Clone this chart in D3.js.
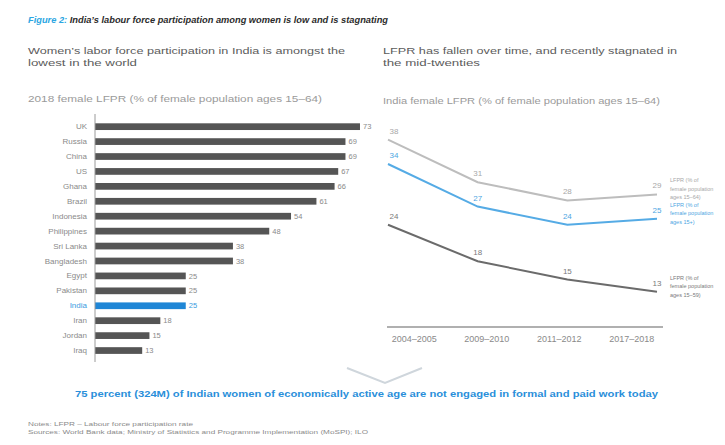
<!DOCTYPE html>
<html>
<head>
<meta charset="utf-8">
<script src="https://cdn.jsdelivr.net/npm/d3@7/dist/d3.min.js"></script>
<style>
  html, body { margin: 0; padding: 0; background: #fff; }
  svg { display: block; font-family: "Liberation Sans", Arial, sans-serif; }
</style>
</head>
<body>
<svg id="chart" width="725" height="445"></svg>
<script>
// ---------- data ----------
const countries = ["UK","Russia","China","US","Ghana","Brazil","Indonesia","Philippines","Sri Lanka","Bangladesh","Egypt","Pakistan","India","Iran","Jordan","Iraq"];
const lfpr2018 = [73,69,69,67,66,61,54,48,38,38,25,25,25,18,15,13];
const highlight = "India";

const periods = ["2004–2005","2009–2010","2011–2012","2017–2018"];
const lfprGray = [38,31,28,29];
const lfprBlue = [34,27,24,25];
const lfprDark = [24,18,15,13];
const legendGray = ["LFPR (% of","female population","ages 15–64)"];
const legendBlue = ["LFPR (% of","female population","ages 15+)"];
const legendDark = ["LFPR (% of","female population","ages 15–59)"];

const titleLead = "Figure 2:";
const titleRest = " India’s labour force participation among women is low and is stagnating";
const leftSub = ["Women’s labor force participation in India is amongst the","lowest in the world"];
const rightSub = ["LFPR has fallen over time, and recently stagnated in","the mid-twenties"];
const leftAxisTitle = "2018 female LFPR (% of female population ages 15–64)";
const rightAxisTitle = "India female LFPR (% of female population ages 15–64)";
const banner = "75 percent (324M) of Indian women of economically active age are not engaged in formal and paid work today";
const notes = ["Notes: LFPR – Labour force participation rate","Sources: World Bank data; Ministry of Statistics and Programme Implementation (MoSPI); ILO"];

// ---------- drawing ----------
const svg = d3.select("#chart");
const fit = (sel, w) => sel.attr("textLength", w).attr("lengthAdjust", "spacingAndGlyphs");

// title
const title = svg.append("text").attr("x", 28).attr("y", 23)
  .attr("font-size", 9.5).attr("font-weight", "bold").attr("font-style", "italic");
title.append("tspan").attr("fill", "#2ba6e2").text(titleLead);
title.append("tspan").attr("fill", "#2b2b2b").text(titleRest);
fit(title, 360);

// subtitles
const subW = [[317,109],[294,97]];
leftSub.forEach((t,i) => fit(svg.append("text").attr("x",28).attr("y",54+i*12)
  .attr("font-size",9.5).attr("fill","#5c5c5c").text(t), subW[0][i]));
rightSub.forEach((t,i) => fit(svg.append("text").attr("x",383).attr("y",54+i*12)
  .attr("font-size",9.5).attr("fill","#5c5c5c").text(t), subW[1][i]));
fit(svg.append("text").attr("x",28).attr("y",102).attr("font-size",8.5)
  .attr("fill","#9a9a9a").text(leftAxisTitle), 294);
fit(svg.append("text").attr("x",383).attr("y",104).attr("font-size",8.5)
  .attr("fill","#9a9a9a").text(rightAxisTitle), 277);

// ---- bar chart ----
const xb = d3.scaleLinear().domain([0,80]).range([95, 95 + 80*3.63]);
const yb = d3.scaleBand().domain(countries).range([119.2, 358]).paddingInner(0.55).paddingOuter(0.275);
const barData = countries.map((c,i) => ({c, v: lfpr2018[i]}));

svg.append("g").selectAll("rect").data(barData).join("rect")
  .attr("x", xb(0)).attr("y", d => yb(d.c))
  .attr("width", d => xb(d.v) - xb(0)).attr("height", yb.bandwidth())
  .attr("fill", d => d.c === highlight ? "#1f86d6" : "#555555");

svg.append("g").selectAll("text").data(barData).join("text")
  .attr("x", d => xb(d.v) + 3).attr("y", d => yb(d.c) + yb.bandwidth()/2)
  .attr("dy", "0.35em").attr("font-size", 7.5)
  .attr("fill", d => d.c === highlight ? "#3a9be0" : "#8a8a8a")
  .text(d => d.v);

const yAxis = svg.append("g").attr("transform", `translate(${xb(0)},0)`)
  .call(d3.axisLeft(yb).tickSize(0).tickPadding(8));
yAxis.select(".domain").attr("stroke", "#9a9a9a").attr("d", "M0,114V362");
yAxis.selectAll("text").attr("font-size", 8).attr("font-family", "Liberation Sans, Arial, sans-serif")
  .attr("fill", d => d === highlight ? "#3a9be0" : "#8a8a8a");

// ---- line chart ----
const xp = d3.scalePoint().domain(periods).range([388, 657]);
const xl = d3.scaleBand().domain(periods).range([378, 668]);
const yl = d3.scaleLinear().domain([0,40]).range([370.7, 127.5]);

const xAxis = svg.append("g").attr("transform", "translate(0,327)")
  .call(d3.axisBottom(xl).tickSize(0).tickPadding(9));
xAxis.select(".domain").attr("stroke", "#b0b0b0").attr("stroke-width", 2).attr("d", "M387,0H663");
xAxis.selectAll("text").attr("font-size", 9).attr("fill", "#8a8a8a")
  .attr("font-family", "Liberation Sans, Arial, sans-serif");

const series = [
  {vals: lfprGray, color: "#bdbdbd", text: "#a8a8a8", legend: legendGray},
  {vals: lfprBlue, color: "#55abe5", text: "#4ea6e2", legend: legendBlue},
  {vals: lfprDark, color: "#6b6b6b", text: "#7a7a7a", legend: legendDark}
];
const line = d3.line().x(d => xp(d.p)).y(d => yl(d.v));

series.forEach(s => {
  const pts = periods.map((p,i) => ({p, v: s.vals[i], i}));
  svg.append("path").datum(pts).attr("d", line)
    .attr("fill", "none").attr("stroke", s.color).attr("stroke-width", 2);
  svg.append("g").selectAll("text").data(pts).join("text")
    .attr("x", d => xp(d.p) + (d.i === 0 ? 6 : 0)).attr("y", d => yl(d.v) - 6)
    .attr("text-anchor", "middle").attr("font-size", 8).attr("fill", s.text)
    .text(d => d.v);
  const last = pts[pts.length - 1];
  s.legend.forEach((t,j) => svg.append("text")
    .attr("x", 670).attr("y", yl(last.v) - 12 + j*8.5)
    .attr("font-size", 5.5).attr("fill", s.text).text(t));
});

// ---- banner ----
svg.append("path").attr("d", "M347,368L385,383L422,368")
  .attr("fill", "none").attr("stroke", "#cfd6dc").attr("stroke-width", 2);
fit(svg.append("text").attr("x", 75).attr("y", 397).attr("font-size", 9.5)
  .attr("font-weight", "bold").attr("fill", "#2a8fda").text(banner), 583);

// ---- footnotes ----
const noteW = [165, 340];
notes.forEach((t,i) => fit(svg.append("text").attr("x", 28).attr("y", 426 + i*8)
  .attr("font-size", 6).attr("fill", "#8a8a8a").text(t), noteW[i]));
</script>
</body>
</html>
